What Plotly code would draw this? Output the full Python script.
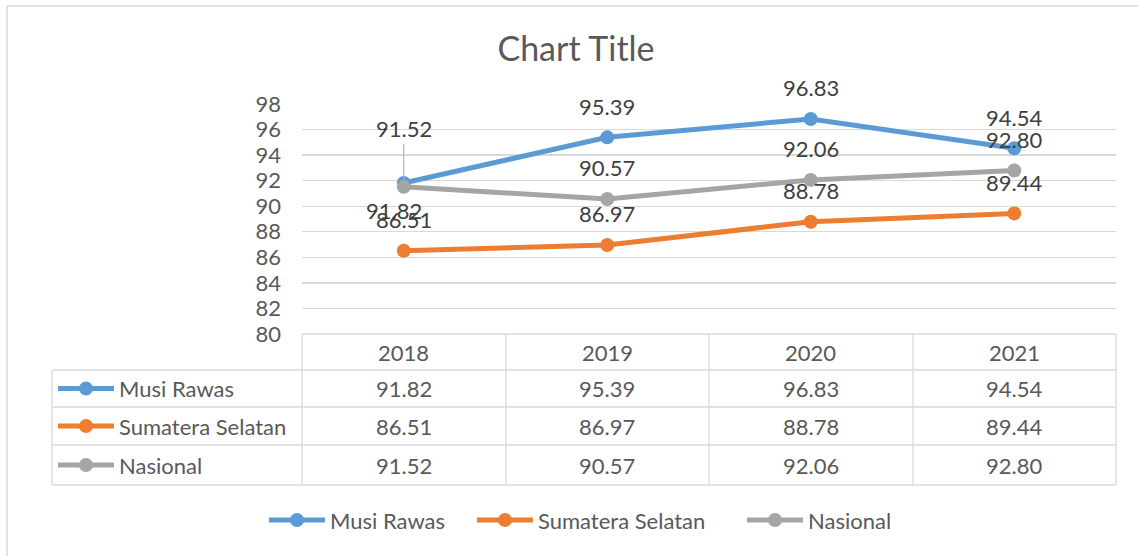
import plotly.graph_objects as go

years = ["2018", "2019", "2020", "2021"]
series_names = ["Musi Rawas", "Sumatera Selatan", "Nasional"]
musi_rawas = [91.82, 95.39, 96.83, 94.54]
sumatera_selatan = [86.51, 86.97, 88.78, 89.44]
nasional = [91.52, 90.57, 92.06, 92.80]
y_ticks = [80, 82, 84, 86, 88, 90, 92, 94, 96, 98]

series_values = [musi_rawas, sumatera_selatan, nasional]
colors = ["#5B9BD5", "#ED7D31", "#A5A5A5"]

W, H = 1138, 556
L_REF, R_REF, T_REF, B_REF = 302, 1116, 104, 334   # plot area in window pixels
PW, PH = R_REF - L_REF, B_REF - T_REF
FONT = "Lato, Carlito, 'Open Sans', sans-serif"
TXT = "#595959"
GRID = "#D9D9D9"
FS = 22


def px(xp):
    return (xp - L_REF) / PW


def py(yp):
    return (B_REF - yp) / PH


fig = go.Figure()
for name, vals, col in zip(series_names, series_values, colors):
    fig.add_trace(go.Scatter(
        x=years, y=vals, name=name, mode="lines+markers",
        line=dict(color=col, width=5), marker=dict(color=col, size=14),
        showlegend=False, cliponaxis=False))

annotations = []
shapes = []

# data labels
for si, (name, vals, col) in enumerate(zip(series_names, series_values, colors)):
    for xi, v in enumerate(vals):
        a = dict(x=xi, y=v, xref="x", yref="y", text=f"{v:.2f}",
                 xanchor="center", yanchor="middle",
                 font=dict(family=FONT, size=FS, color="#404040"),
                 showarrow=False, yshift=31)
        if si == 0 and xi == 0:
            a.update(yshift=-28, xshift=-10)
        if si == 2 and xi == 0:
            a.update(yshift=0, showarrow=True, ax=0, ay=-58, arrowhead=0,
                     arrowwidth=1, arrowcolor="#A6A6A6", standoff=6)
        annotations.append(a)

# data table
line_style = dict(color=GRID, width=1.3)
col_edges = [302, 506, 709, 913, 1116]
row_edges = [334, 370, 407, 445, 485]
shapes.append(dict(type="line", xref="paper", yref="paper", x0=px(302), x1=px(1116),
                   y0=py(334), y1=py(334), line=line_style))
for ry in row_edges[1:]:
    shapes.append(dict(type="line", xref="paper", yref="paper", x0=px(52), x1=px(1116),
                       y0=py(ry), y1=py(ry), line=line_style))
for cx in col_edges:
    shapes.append(dict(type="line", xref="paper", yref="paper", x0=px(cx), x1=px(cx),
                       y0=py(334), y1=py(485), line=line_style))
shapes.append(dict(type="line", xref="paper", yref="paper", x0=px(52), x1=px(52),
                   y0=py(370), y1=py(485), line=line_style))

for xi, yr in enumerate(years):
    annotations.append(dict(x=xi, y=py(352), xref="x", yref="paper", text=yr,
                            xanchor="center", yanchor="middle",
                            showarrow=False, font=dict(family=FONT, size=FS, color=TXT)))

row_centers = [388.5, 426, 465]
for name, vals, col, rc in zip(series_names, series_values, colors, row_centers):
    for xi, v in enumerate(vals):
        annotations.append(dict(x=xi, y=py(rc), xref="x", yref="paper", text=f"{v:.2f}",
                                xanchor="center", yanchor="middle",
                                showarrow=False, font=dict(family=FONT, size=FS, color=TXT)))
    shapes.append(dict(type="line", xref="paper", yref="paper", x0=px(58), x1=px(114),
                       y0=py(rc), y1=py(rc), line=dict(color=col, width=5)))
    shapes.append(dict(type="circle", xref="paper", yref="paper", x0=px(86 - 7), x1=px(86 + 7),
                       y0=py(rc - 7), y1=py(rc + 7), fillcolor=col, line=dict(width=0)))
    annotations.append(dict(x=px(117), y=py(rc), xref="paper", yref="paper", text=name,
                            xanchor="left", yanchor="middle", showarrow=False,
                            font=dict(family=FONT, size=FS, color=TXT)))

# bottom legend
leg_starts = [269, 477, 747]
leg_y = 520
for name, col, ls in zip(series_names, colors, leg_starts):
    shapes.append(dict(type="line", xref="paper", yref="paper", x0=px(ls), x1=px(ls + 56),
                       y0=py(leg_y), y1=py(leg_y), line=dict(color=col, width=5)))
    shapes.append(dict(type="circle", xref="paper", yref="paper", x0=px(ls + 28 - 7),
                       x1=px(ls + 28 + 7), y0=py(leg_y - 7), y1=py(leg_y + 7),
                       fillcolor=col, line=dict(width=0)))
    annotations.append(dict(x=px(ls + 59), y=py(leg_y), xref="paper", yref="paper", text=name,
                            xanchor="left", yanchor="middle", showarrow=False,
                            font=dict(family=FONT, size=FS, color=TXT)))

# chart border
shapes.append(dict(type="rect", xref="paper", yref="paper", x0=px(7), x1=px(1170),
                   y0=py(6), y1=py(600), line=dict(color=GRID, width=1.5), layer="below"))

fig.update_layout(
    width=W, height=H,
    margin=dict(l=L_REF, r=W - R_REF, t=T_REF, b=H - B_REF),
    paper_bgcolor="white", plot_bgcolor="white",
    title=dict(text="Chart Title", x=576 / W, xanchor="center",
               y=1 - 49 / H, yanchor="middle",
               font=dict(family=FONT, size=34, color=TXT)),
    xaxis=dict(type="category", range=[-0.5, 3.5], showticklabels=False, showgrid=False,
               zeroline=False, showline=False, fixedrange=True),
    yaxis=dict(range=[80, 98], tickvals=y_ticks, showgrid=True, gridcolor=GRID,
               gridwidth=1.3, zeroline=False, showline=False, ticklabelstandoff=20,
               fixedrange=True, tickfont=dict(family=FONT, size=FS, color=TXT)),
    annotations=annotations,
    shapes=shapes,
    showlegend=False,
    hovermode=False,
)

fig.write_html("out.html",
               config={"displayModeBar": False, "staticPlot": True},
               post_script="document.body.style.margin='0';document.body.style.overflow='hidden';")
